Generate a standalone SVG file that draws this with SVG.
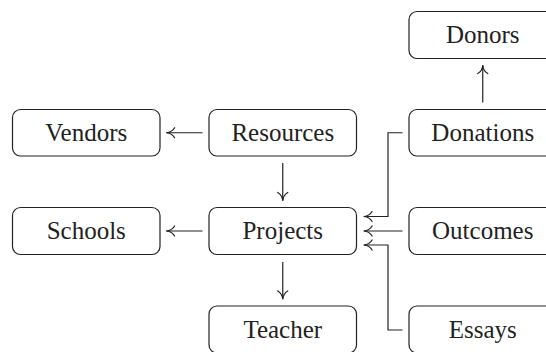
<svg xmlns="http://www.w3.org/2000/svg" width="546" height="352" viewBox="0 0 546 352">
  <style>
    .box { fill: #ffffff; stroke: #222222; stroke-width: 1.2; }
    .label { font-family: "Liberation Serif", "DejaVu Serif", serif; font-size: 25px; fill: #222222; text-anchor: middle; }
    .edge { fill: none; stroke: #222222; stroke-width: 1.2; marker-end: url(#to); }
  </style>
  <defs>
    <!-- open curved arrowhead -->
    <marker id="to" viewBox="-9 -6 11 12" refX="0.6" refY="0" markerWidth="11" markerHeight="12" markerUnits="userSpaceOnUse" orient="auto">
      <path d="M-7.5,-5 C-5.8,-2 -2.5,-0.4 0.6,0 C-2.5,0.4 -5.8,2 -7.5,5" fill="none" stroke="#222222" stroke-width="1.2" stroke-linecap="round" stroke-linejoin="round"/>
    </marker>
  </defs>

  <g id="connectors">
    <path class="edge" d="M202.5,132.75 H166.5"/>
    <path class="edge" d="M202.5,231 H166.5"/>
    <path class="edge" d="M282.75,163 V200.5"/>
    <path class="edge" d="M282.75,262 V299"/>
    <path class="edge" d="M482.75,102.5 V65.5"/>
    <path class="edge" d="M402.5,132.75 H388 V216.5 H364"/>
    <path class="edge" d="M402.5,231 H364"/>
    <path class="edge" d="M402.5,330 H388 V245 H364"/>
  </g>

  <g id="donors">
    <rect class="box" x="409" y="11.5" width="147.5" height="47" rx="8"/>
    <text class="label" x="482.75" y="43">Donors</text>
  </g>
  <g id="vendors">
    <rect class="box" x="12.5" y="109.5" width="147.5" height="46.5" rx="8"/>
    <text class="label" x="86.25" y="140.7">Vendors</text>
  </g>
  <g id="resources">
    <rect class="box" x="209" y="109.5" width="147.5" height="46.5" rx="8"/>
    <text class="label" x="282.75" y="140.7">Resources</text>
  </g>
  <g id="donations">
    <rect class="box" x="409" y="109.5" width="147.5" height="46.5" rx="8"/>
    <text class="label" x="482.75" y="140.7">Donations</text>
  </g>
  <g id="schools">
    <rect class="box" x="12.5" y="207.5" width="147.5" height="47" rx="8"/>
    <text class="label" x="86.25" y="239">Schools</text>
  </g>
  <g id="projects">
    <rect class="box" x="209" y="207.5" width="147.5" height="47" rx="8"/>
    <text class="label" x="282.75" y="239">Projects</text>
  </g>
  <g id="outcomes">
    <rect class="box" x="409" y="207.5" width="147.5" height="47" rx="8"/>
    <text class="label" x="482.75" y="239">Outcomes</text>
  </g>
  <g id="teacher">
    <rect class="box" x="209" y="306" width="147.5" height="47" rx="8"/>
    <text class="label" x="282.75" y="337.5">Teacher</text>
  </g>
  <g id="essays">
    <rect class="box" x="409" y="306" width="147.5" height="47" rx="8"/>
    <text class="label" x="482.75" y="337.5">Essays</text>
  </g>
</svg>
